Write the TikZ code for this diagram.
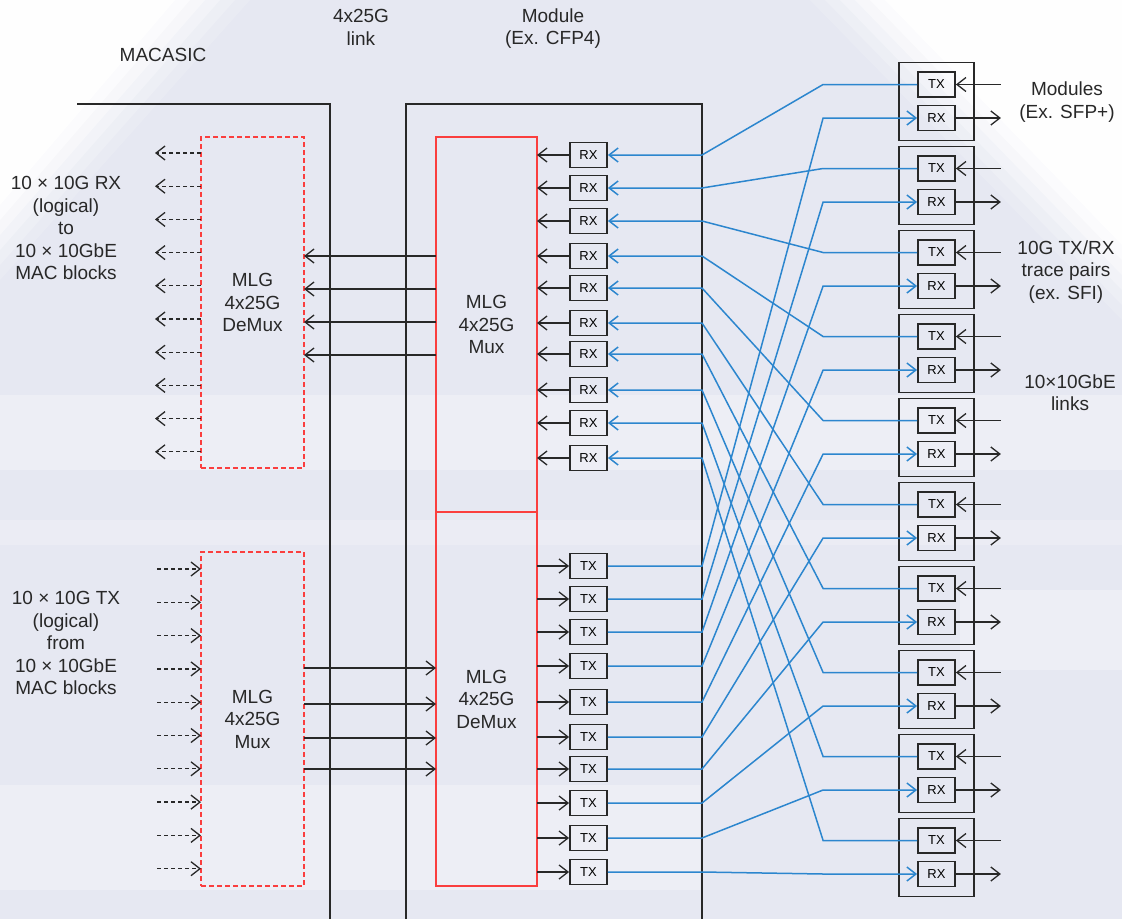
\documentclass[tikz,border=0pt]{standalone}
\usepackage{fontspec}
\setmainfont{Liberation Sans}
\usetikzlibrary{arrows.meta,positioning,calc}
\definecolor{deskbg}{RGB}{230,232,242}
\definecolor{tracecol}{RGB}{44,134,206}
\definecolor{mlgred}{RGB}{250,62,62}
\definecolor{inkcol}{RGB}{40,40,40}
\tikzset{
  lbl/.style={align=center,text=inkcol,font=\fontsize{19}{22.5}\selectfont,inner sep=0pt},
  port/.style={draw=inkcol,line width=1.8pt,minimum width=37pt,minimum height=25pt,inner sep=0pt,font=\fontsize{13}{13}\selectfont},
  sfpbox/.style={draw=inkcol,line width=1.8pt,minimum width=75pt,minimum height=78pt,inner sep=0pt},
  mlg/.style={draw=mlgred,line width=1.5pt,inner sep=0pt,outer sep=0pt,align=center,text=inkcol,font=\fontsize{19}{22.5}\selectfont},
  mlgdash/.style={mlg,dash pattern=on 5pt off 3pt},
  wire/.style={->,line width=1.3pt,draw=inkcol},
  logical/.style={wire,dash pattern=on 4pt off 3pt},
  trace/.style={line width=1.5pt,draw=tracecol},
  frame/.style={line width=1.6pt,draw=inkcol},
}

\begin{document}
\begin{tikzpicture}[x=1pt,y=-1pt,>={Straight Barb[length=9pt,width=14pt]}]
  % backdrop
  \useasboundingbox (0,0) rectangle (1122,919);
  \fill[deskbg] (0,0) rectangle (1122,919);
  \foreach \d/\o in {60/.15,45/.2,30/.3,15/.4,0/.6,-15/.9}{
    \fill[white,opacity=\o] (0,0) -- (190+\d,0) -- (0,220+\d) -- cycle;
    \fill[white,opacity=\o] (870-\d,0) -- (1122,0) -- (1122,260+\d) -- cycle;
  }
  \fill[white,opacity=.3] (0,395) rectangle (1122,470);
  \fill[white,opacity=.2] (0,520) rectangle (1122,545);
  \fill[white,opacity=.3] (0,785) rectangle (700,890);
  \fill[white,opacity=.3] (960,590) rectangle (1122,670);

  % chip outlines
  \draw[frame] (77,104) -- (330,104) -- (330,919);
  \draw[frame] (406,919) -- (406,104) coordinate (cfpL) -- (702,104) coordinate (cfpR) -- (702,919);

  % titles
  \node[lbl] (asic) at (163,55) {MACASIC};
  \node[lbl] (link) at (361,27.5) {4x25G\\link};
  \node[lbl] (cfp) at (553,28.5) {Module\\(Ex. CFP4)};
  \node[lbl] (sfpnote) at (1067,102) {Modules\\(Ex. SFP+)};
  \node[lbl] (pairs) at (1066,272) {10G TX/RX\\trace pairs\\(ex. SFI)};
  \node[lbl] (links) at (1070,392.5) {10×10GbE\\links};
  \node[lbl] (rxlogic) at (66,228) {10 × 10G RX\\(logical)\\to\\10 × 10GbE\\MAC blocks};
  \node[lbl] (txlogic) at (66,643) {10 × 10G TX\\(logical)\\from\\10 × 10GbE\\MAC blocks};

  % gearbox blocks
  \node[mlg,minimum width=101pt,minimum height=375pt] (mux) at (486.5,324.5) {MLG\\4x25G\\Mux};
  \node[mlg,minimum width=101pt,minimum height=374pt,below=0pt of mux] (demux) {MLG\\4x25G\\DeMux};
  \node[mlgdash,minimum width=103pt,minimum height=331pt] (macdemux) at (252.5,302.5) {MLG\\4x25G\\DeMux};
  \node[mlgdash,minimum width=103pt,minimum height=334pt] (macmux) at (252.5,719) {MLG\\4x25G\\Mux};

  % CFP lanes
  \foreach \i/\y in {1/155,2/188,3/221,4/256,5/288,6/323,7/354,8/390,9/423,10/458}
    \node[port] (rx\i) at (588.5,\y) {RX};
  \foreach \i/\y in {1/566,2/599,3/632,4/666,5/702,6/737,7/769,8/803,9/838,10/872}
    \node[port] (tx\i) at (588.5,\y) {TX};

  % SFP modules
  \foreach \i in {1,...,10}{
    \node[sfpbox] (sfp\i) at (936.5,{101.5+84*(\i-1)}) {};
    \node[port] (mtx\i) at ([yshift=17pt]sfp\i.center) {TX};
    \node[port] (mrx\i) at ([yshift=-16.5pt]sfp\i.center) {RX};
    \coordinate[right=45pt of mtx\i.east] (tin\i);
    \coordinate[right=45pt of mrx\i.east] (rout\i);
    \draw[wire] (tin\i) -- (mtx\i.east);
    \draw[wire] (mrx\i.east) -- (rout\i);
  }

  % electrical lanes and traces
  \foreach \i in {1,...,10}{
    \draw[wire] (rx\i.west) -- (rx\i.west -| mux.east);
    \draw[wire] (tx\i.west -| demux.east) -- (tx\i.west);
    \draw[trace,<-] (rx\i.east) -- (rx\i.east -| cfpR) -- ([xshift=-94pt]mtx\i.west) -- (mtx\i.west);
    \draw[trace,->] (tx\i.east) -- (tx\i.east -| cfpR) -- ([xshift=-94pt]mrx\i.west) -- (mrx\i.west);
  }

  % 4x25G link
  \foreach \j/\y in {1/256,2/289,3/322,4/355}{
    \coordinate (rlane\j) at (370,\y);
    \draw[wire] (rlane\j -| mux.west) -- (rlane\j -| macdemux.east);
  }
  \foreach \j/\y in {1/668,2/704,3/738,4/769}{
    \coordinate (tlane\j) at (370,\y);
    \draw[wire] (tlane\j -| macmux.east) -- (tlane\j -| demux.west);
  }

  % logical 10G ports
  \foreach \k in {0,...,9}{
    \coordinate (rxo\k) at (155,{153+33.2*\k});
    \draw[logical] (rxo\k -| macdemux.west) -- (rxo\k);
    \coordinate (txi\k) at (157,{569+33.3*\k});
    \draw[logical] (txi\k) -- (txi\k -| macmux.west);
  }
\end{tikzpicture}
\end{document}
